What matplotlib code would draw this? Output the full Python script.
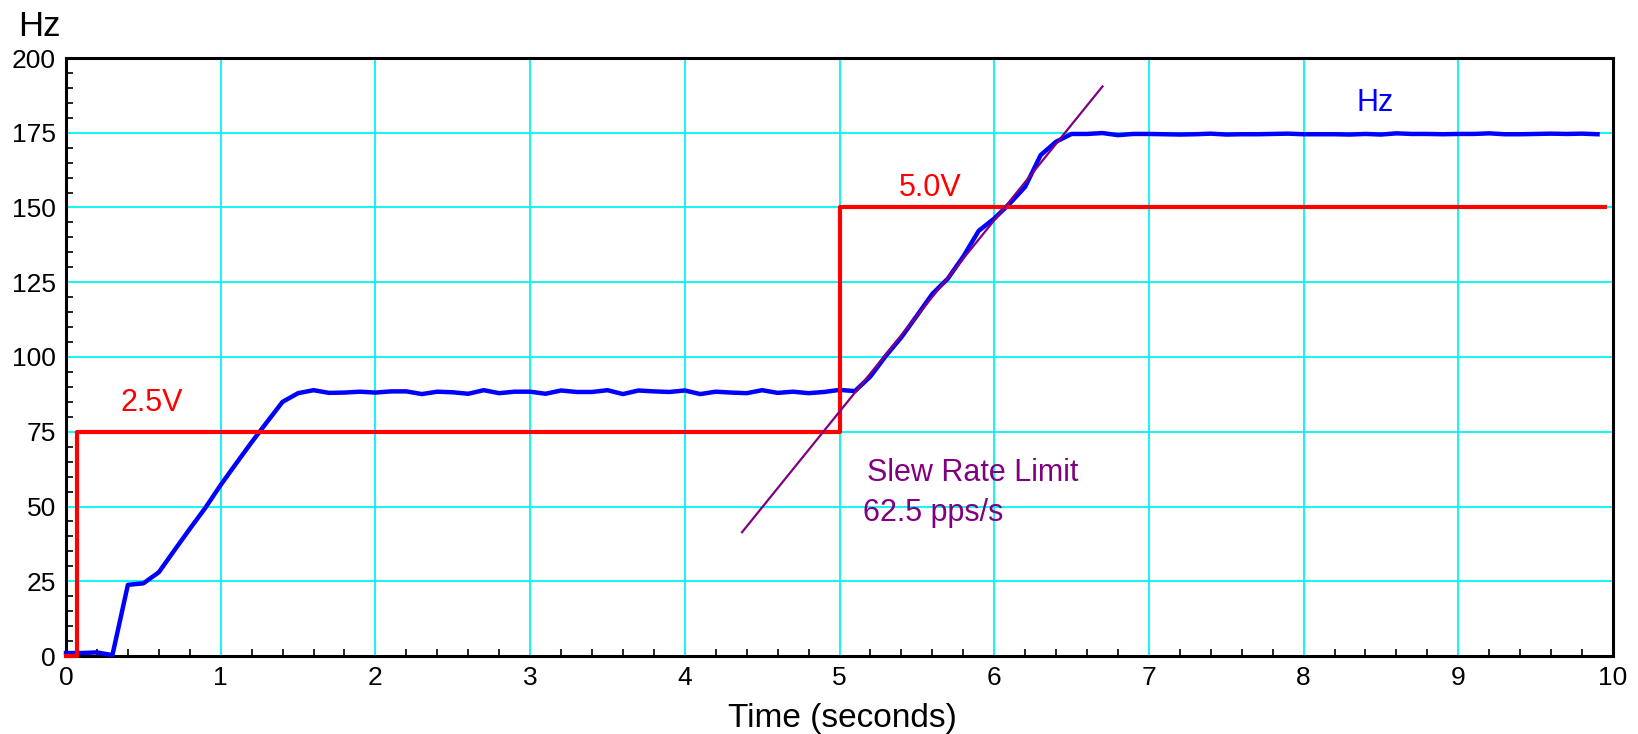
import numpy as np
import matplotlib
matplotlib.use('Agg')
import matplotlib.pyplot as plt
from matplotlib.ticker import MultipleLocator

plt.rcParams['font.family'] = ['Liberation Sans', 'DejaVu Sans']

# measured frequency, sampled every 0.1 s
tempo = np.round(np.arange(100) * 0.1, 1)
hz = [1.0, 1.0, 1.2, 0.3, 23.8, 24.3, 28.0, 35.3, 42.5, 49.5,
      57.2, 64.4, 71.5, 78.3, 85.0, 87.9, 88.9, 88.0, 88.1, 88.4,
      88.1, 88.5, 88.5, 87.6, 88.4, 88.2, 87.7, 88.9, 87.9, 88.4,
      88.4, 87.7, 88.8, 88.3, 88.3, 88.9, 87.6, 88.8, 88.5, 88.3,
      88.8, 87.6, 88.4, 88.1, 87.9, 88.9, 88.0, 88.4, 87.9, 88.3,
      89.0, 88.6, 93.5, 100.4, 106.6, 113.8, 121.1, 126.2, 133.6, 142.2,
      146.3, 151.3, 156.9, 167.5, 172.0, 174.6, 174.6, 174.9, 174.2, 174.6,
      174.6, 174.5, 174.4, 174.5, 174.7, 174.4, 174.5, 174.5, 174.6, 174.7,
      174.5, 174.5, 174.5, 174.4, 174.6, 174.4, 174.8, 174.6, 174.6, 174.5,
      174.6, 174.6, 174.8, 174.5, 174.5, 174.6, 174.7, 174.6, 174.7, 174.5]

# command voltage steps (scaled to Hz axis)
degrau_t = [0, 0.07, 0.07, 5.0, 5.0, 9.95]
degrau_hz = [0, 0, 75, 75, 150, 150]

# slew rate reference line
slew_t = [4.37, 6.70]
slew_hz = [41.4, 190.5]

fig = plt.figure(figsize=(16.38, 7.34), dpi=100)
ax = fig.add_axes([66 / 1638, 78 / 734, (1613 - 66) / 1638, (656 - 58) / 734])

ax.plot(tempo, hz, color='#0000FF', lw=3.2, solid_joinstyle='round', zorder=3, clip_on=False)
ax.plot(degrau_t, degrau_hz, color='#FF0000', lw=3, zorder=4, clip_on=False)
ax.plot(slew_t, slew_hz, color='#800080', lw=1.6, zorder=5)

ax.set_xlim(0, 10)
ax.set_ylim(0, 200)
ax.xaxis.set_major_locator(MultipleLocator(1))
ax.xaxis.set_minor_locator(MultipleLocator(0.2))
ax.yaxis.set_major_locator(MultipleLocator(25))
ax.yaxis.set_minor_locator(MultipleLocator(5))
ax.grid(True, which='major', color='#00F5F5', lw=1.3, zorder=1)
ax.set_axisbelow(True)

ax.tick_params(which='major', direction='in', length=0, labelsize=19)
ax.tick_params(which='minor', direction='in', length=5, width=1.2, color='black')
ax.tick_params(axis='y', which='major', pad=7.4)
ax.tick_params(axis='x', which='major', pad=7.5)
for s in ax.spines.values():
    s.set_linewidth(2.2)
    s.set_color('black')

ax.text(0.35, 82, '2.5V', color='#FF0000', fontsize=22, ha='left', va='baseline')
ax.text(5.385, 154, '5.0V', color='#FF0000', fontsize=22, ha='left', va='baseline')
ax.text(8.34, 182.2, 'Hz', color='#0000FF', fontsize=22, ha='left', va='baseline')
ax.text(5.18, 58.5, 'Slew Rate Limit', color='#800080', fontsize=22, ha='left', va='baseline')
ax.text(5.15, 45.1, '62.5 pps/s', color='#800080', fontsize=22, ha='left', va='baseline')

fig.text(18 / 1638, (734 - 36) / 734, 'Hz', fontsize=25, ha='left', va='baseline')
fig.text(842 / 1638, (734 - 727) / 734, 'Time (seconds)', fontsize=24, ha='center', va='baseline')

fig.savefig('out.png', dpi=100, facecolor='white')
